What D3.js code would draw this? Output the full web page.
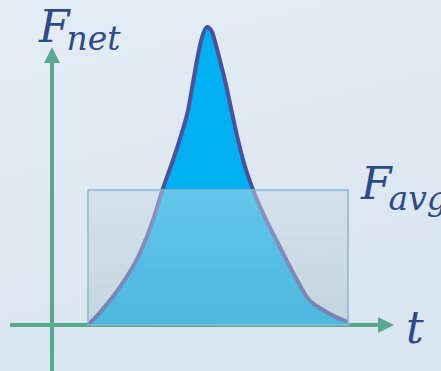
<!DOCTYPE html>
<html>
    <head>
            <title>impulse</title>
            <script src="https://d3js.org/d3.v7.min.js"></script>
    </head>
    <body style="margin:0;">
        <style>
        .lbl {
            font-family: "DejaVu Serif", serif;
            font-style: italic;
            fill: #2f4a8c;
        }
        </style>
        <svg class="chart"></svg>
        <script>
            var svgWidth = 441, svgHeight = 371;

            // force pulse (arbitrary units)
            var tValues     = [0, 0.54, 1.23, 2.0, 2.5, 2.85, 3.23, 3.58, 3.85, 4.04, 4.23, 4.38, 4.58, 4.77, 4.92, 5.12, 5.31, 5.54, 5.77, 6.0, 6.35, 6.73, 7.38, 8.04, 8.42, 9.04, 10];
            var forceValues = [0, 0.5, 1.27, 2.4, 3.5, 4.47, 5.4, 6.33, 7.17, 8.1, 9.0, 9.57, 9.93, 9.77, 9.33, 8.67, 8.0, 7.07, 6.17, 5.4, 4.5, 3.73, 2.6, 1.5, 0.93, 0.5, 0.1];
            var fAvg = 4.5;
            var labels = {y: ["F", "net"], avg: ["F", "avg"], x: "t"};

            var data = tValues.map(function(t, i) { return {t: t, f: forceValues[i]}; });

            var xScale = d3.scaleLinear().domain([0, 10]).range([88, 348]);
            var yScale = d3.scaleLinear().domain([0, 10]).range([325, 25]);

            var svg = d3.select(".chart")
                .attr("width", svgWidth)
                .attr("height", svgHeight);

            var defs = svg.append("defs");
            var bg = defs.append("linearGradient").attr("id", "bg")
                .attr("x1", 0).attr("y1", 0).attr("x2", 0.3).attr("y2", 1);
            bg.append("stop").attr("offset", "0%").attr("stop-color", "#e4edf5");
            bg.append("stop").attr("offset", "100%").attr("stop-color", "#d9e5ef");

            var rg = defs.append("linearGradient").attr("id", "rectfill")
                .attr("x1", 0).attr("y1", 0).attr("x2", 0).attr("y2", 1);
            rg.append("stop").attr("offset", "0%").attr("stop-color", "rgb(202,220,228)").attr("stop-opacity", 0.49);
            rg.append("stop").attr("offset", "100%").attr("stop-color", "rgb(170,192,205)").attr("stop-opacity", 0.45);

            var ah = defs.append("marker").attr("id", "arrow")
                .attr("viewBox", "0 0 16 16").attr("refX", 0).attr("refY", 8)
                .attr("markerWidth", 16).attr("markerHeight", 16)
                .attr("markerUnits", "userSpaceOnUse")
                .attr("orient", "auto");
            ah.append("path").attr("d", "M0,0L16,8L0,16Z").attr("fill", "#5ba891");

            svg.append("rect").attr("width", svgWidth).attr("height", svgHeight).attr("fill", "url(#bg)");

            // axes
            var axisColor = "#5ba891";
            svg.append("line")
                .attr("x1", 10).attr("y1", yScale(0))
                .attr("x2", 378).attr("y2", yScale(0))
                .attr("stroke", axisColor).attr("stroke-width", 4)
                .attr("marker-end", "url(#arrow)");
            svg.append("line")
                .attr("x1", 52).attr("y1", 371)
                .attr("x2", 52).attr("y2", 63)
                .attr("stroke", axisColor).attr("stroke-width", 4)
                .attr("marker-end", "url(#arrow)");

            // pulse
            var area = d3.area()
                .x(function(d) { return xScale(d.t); })
                .y0(yScale(0))
                .y1(function(d) { return yScale(d.f); })
                .curve(d3.curveMonotoneX);
            var line = d3.line()
                .x(function(d) { return xScale(d.t); })
                .y(function(d) { return yScale(d.f); })
                .curve(d3.curveMonotoneX);

            svg.append("path").datum(data).attr("d", area).attr("fill", "#00b0f0");
            svg.append("path").datum(data).attr("d", line)
                .attr("fill", "none").attr("stroke", "#4b519c").attr("stroke-width", 4)
                .attr("stroke-linejoin", "round");

            // average force box
            svg.append("rect")
                .attr("x", xScale(0)).attr("y", yScale(fAvg))
                .attr("width", xScale(10) - xScale(0))
                .attr("height", yScale(0) - yScale(fAvg))
                .attr("fill", "url(#rectfill)")
                .attr("stroke", "#8ab8cc").attr("stroke-width", 1.5);

            // labels
            var yl = svg.append("text").attr("class", "lbl").attr("x", 39).attr("y", 42);
            yl.append("tspan").attr("font-size", 44).text(labels.y[0]);
            yl.append("tspan").attr("font-size", 33).attr("dy", 8).attr("dx", -3).text(labels.y[1]);

            var al = svg.append("text").attr("class", "lbl").attr("x", 361).attr("y", 199);
            al.append("tspan").attr("font-size", 44).text(labels.avg[0]);
            al.append("tspan").attr("font-size", 33).attr("dy", 11).attr("dx", -3).text(labels.avg[1]);

            svg.append("text").attr("class", "lbl").attr("x", 406).attr("y", 343)
                .attr("font-size", 44).text(labels.x);
        </script>
    </body>
</html>
